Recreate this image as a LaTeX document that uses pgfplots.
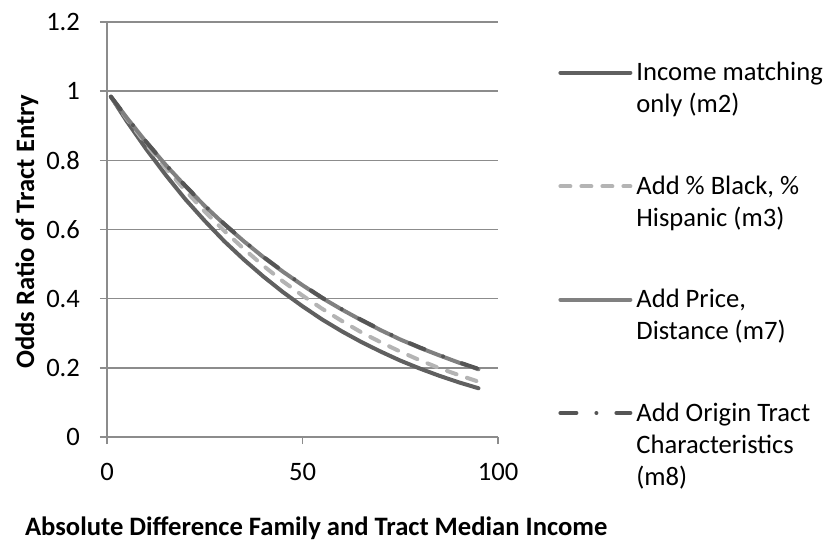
\documentclass[border=0pt]{standalone}
\usepackage{fontspec}
\setmainfont{Carlito}
\usepackage{pgfplots}
\pgfplotsset{compat=1.18}
\definecolor{cgrid}{HTML}{8C8C8C}
\definecolor{cmtwo}{HTML}{606060}
\definecolor{cmthree}{HTML}{B4B4B4}
\definecolor{cmseven}{HTML}{808080}
\definecolor{cmeight}{HTML}{555555}
\newcommand{\lentry}[1]{\begin{tabular}[t]{@{}l@{}}#1\end{tabular}}
\begin{document}
\begin{tikzpicture}
\useasboundingbox (0,0) rectangle (415pt,271pt);
\begin{axis}[
  at={(53.5pt,52.5pt)}, anchor=south west,
  width=195.5pt, height=207.5pt, scale only axis,
  xmin=0, xmax=100, ymin=0, ymax=1.2,
  xtick={0,50,100}, ytick={0,0.2,0.4,0.6,0.8,1,1.2},
  axis lines*=left,
  axis line style={cgrid, line width=0.8pt},
  tick style={cgrid, line width=0.8pt},
  major tick length=3.5pt, tick align=outside,
  ymajorgrids, grid style={cgrid, line width=0.8pt},
  ticklabel style={font=\fontsize{13.3}{16}\selectfont},
  xticklabel style={yshift=-6pt},
  yticklabel style={xshift=-6.5pt},
  /pgf/number format/assume math mode=true,
  xlabel={Absolute Difference Family and Tract Median Income},
  ylabel={Odds Ratio of Tract Entry},
  label style={font=\bfseries\fontsize{13.3}{16}\selectfont},
  xlabel style={anchor=base, at={(axis description cs:0.535,0)}, yshift=-49pt},
  ylabel style={at={(axis description cs:-0.205,0.495)}, anchor=center},
  legend image code/.code={\draw[#1] (0pt,4pt) -- (35pt,4pt);},
  legend style={at={(1,1)}, anchor=north west, xshift=30pt, yshift=-16pt,
    draw=none, fill=none, inner sep=0pt, font=\fontsize{13.3}{16}\selectfont,
    cells={anchor=base west, inner sep=1pt}, row sep=40pt},
]
\addplot[cmtwo, line width=2pt, line cap=round] coordinates {
(1,0.984) (5,0.914) (10,0.833) (15,0.758) (20,0.688) (25,0.625) (30,0.566)
(35,0.513) (40,0.464) (45,0.419) (50,0.378) (55,0.340) (60,0.306) (65,0.275)
(70,0.247) (75,0.221) (80,0.198) (85,0.177) (90,0.158) (95,0.141)};
\addlegendentry{\lentry{Income matching\\only (m2)}}
\addplot[cmthree, line width=2pt, line cap=round, dash pattern=on 5pt off 5.5pt] coordinates {
(1,0.984) (5,0.921) (10,0.847) (15,0.778) (20,0.713) (25,0.652) (30,0.596)
(35,0.544) (40,0.495) (45,0.450) (50,0.409) (55,0.371) (60,0.336) (65,0.303)
(70,0.274) (75,0.247) (80,0.222) (85,0.199) (90,0.179) (95,0.160)};
\addlegendentry{\lentry{Add \% Black, \%\\Hispanic (m3)}}
\addplot[cmseven, line width=2pt, line cap=round] coordinates {
(1,0.984) (5,0.924) (10,0.853) (15,0.787) (20,0.726) (25,0.668) (30,0.615)
(35,0.566) (40,0.520) (45,0.478) (50,0.439) (55,0.402) (60,0.369) (65,0.338)
(70,0.309) (75,0.282) (80,0.258) (85,0.236) (90,0.215) (95,0.196)};
\addlegendentry{\lentry{Add Price,\\Distance (m7)}}
\addplot[cmeight, line width=2pt, line cap=round, dash pattern=on 8pt off 10pt on 0pt off 10pt] coordinates {
(1,0.984) (5,0.925) (10,0.854) (15,0.788) (20,0.727) (25,0.669) (30,0.616)
(35,0.567) (40,0.521) (45,0.479) (50,0.440) (55,0.403) (60,0.370) (65,0.339)
(70,0.310) (75,0.283) (80,0.259) (85,0.237) (90,0.216) (95,0.197)};
\addlegendentry{\lentry{Add Origin Tract\\Characteristics\\(m8)}}
\end{axis}
\end{tikzpicture}
\end{document}
